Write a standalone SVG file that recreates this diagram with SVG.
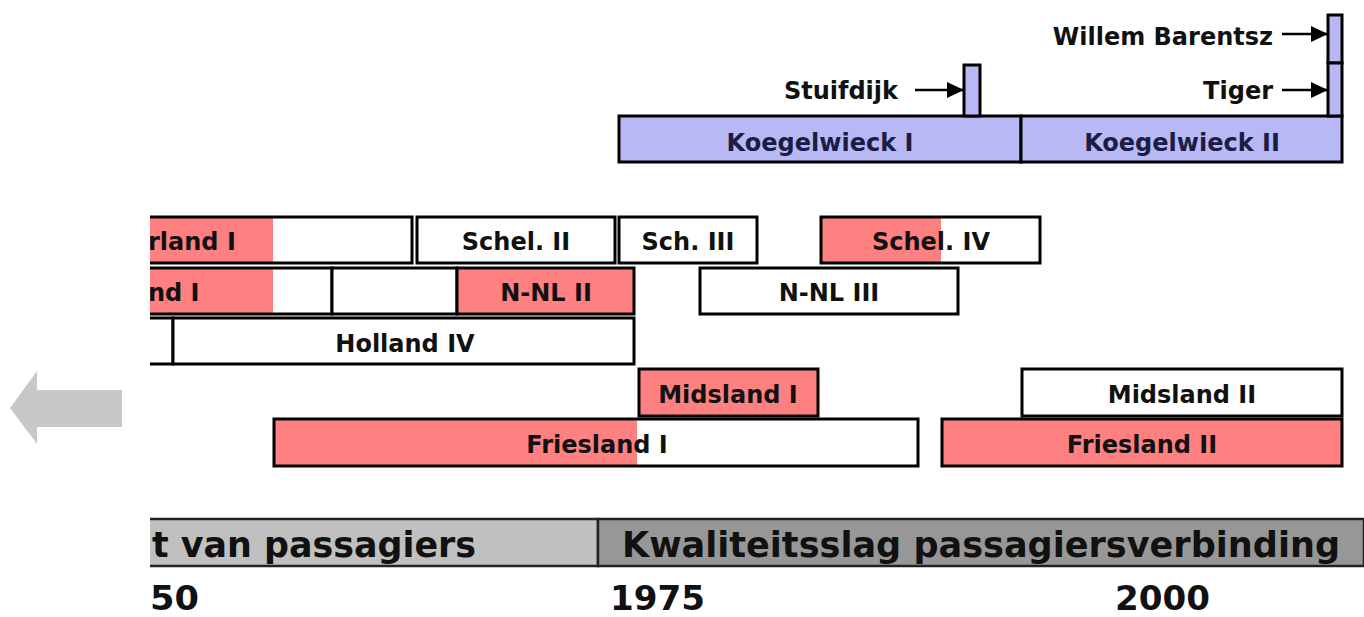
<svg xmlns="http://www.w3.org/2000/svg" width="1364" height="617" viewBox="0 0 1364 617">
<style>
.bar{stroke:#000;stroke-width:3}
.w{fill:#fff}
.p{fill:#ff8080}
.b{fill:#b8b8f4}
.t{font-family:"DejaVu Sans",Verdana,sans-serif;font-weight:bold;font-size:24px;fill:#111;text-anchor:middle}
.tb{fill:#1c1c44}
.l{font-family:"DejaVu Sans",Verdana,sans-serif;font-weight:bold;font-size:24px;fill:#111;text-anchor:end}
.big{font-family:"DejaVu Sans Condensed","DejaVu Sans",sans-serif;font-weight:bold;font-size:36px;fill:#111}
.yr{font-family:"DejaVu Sans Condensed","DejaVu Sans",sans-serif;font-weight:bold;font-size:33px;fill:#111}
.arr{stroke:#000;stroke-width:2.5;fill:none}
</style>
<defs>
<marker id="ah" markerWidth="17" markerHeight="16" refX="16" refY="8" orient="auto" markerUnits="userSpaceOnUse" viewBox="0 0 17 16">
<path d="M0,0 L17,8 L0,16 Z" fill="#000"/>
</marker>
<clipPath id="cl"><rect x="150" y="0" width="1214" height="617"/></clipPath>
</defs>

<g id="arrow-back"><polygon points="10,408 37,371 37,390 122,390 122,427 37,427 37,444" fill="#c8c8c8"/></g>

<g id="koegelwieck1"><rect class="bar b" x="619" y="116" width="402" height="46"/><text class="t tb" x="820" y="151">Koegelwieck I</text></g>
<g id="koegelwieck2"><rect class="bar b" x="1021" y="116" width="321" height="46"/><text class="t tb" x="1182" y="151">Koegelwieck II</text></g>
<g id="stuifdijk"><rect class="bar b" x="964" y="65" width="16" height="51"/><text class="l" x="898" y="99">Stuifdijk</text></g>
<g id="barentsz"><rect class="bar b" x="1328" y="15" width="14" height="48"/><text class="l" x="1273" y="45">Willem Barentsz</text></g>
<g id="tiger"><rect class="bar b" x="1328" y="63" width="14" height="53"/><text class="l" x="1273" y="99">Tiger</text></g>

<g id="row1a" clip-path="url(#cl)"><rect class="w" x="100" y="217" width="312" height="46"/><rect class="p" x="100" y="217" width="173" height="46"/><rect class="bar" fill="none" x="100" y="217" width="312" height="46"/><text class="t" x="148" y="250" style="text-anchor:start">rland I</text></g>
<g id="schel2"><rect class="bar w" x="417" y="217" width="198" height="46"/><text class="t" x="516" y="250">Schel. II</text></g>
<g id="sch3"><rect class="bar w" x="619" y="217" width="138" height="46"/><text class="t" x="688" y="250">Sch. III</text></g>
<g id="schel4"><rect class="w" x="821" y="217" width="219" height="46"/><rect class="p" x="821" y="217" width="120" height="46"/><rect class="bar" fill="none" x="821" y="217" width="219" height="46"/><text class="t" x="931" y="250">Schel. IV</text></g>

<g id="row2a" clip-path="url(#cl)"><rect class="w" x="100" y="268" width="232" height="46"/><rect class="p" x="100" y="268" width="173" height="46"/><rect class="bar" fill="none" x="100" y="268" width="232" height="46"/><text class="t" x="148" y="301" style="text-anchor:start">nd I</text></g>
<g id="row2b"><rect class="bar w" x="332" y="268" width="125" height="46"/></g>
<g id="nnl2"><rect class="bar p" x="457" y="268" width="177" height="46"/><text class="t" x="546" y="301">N-NL II</text></g>
<g id="nnl3"><rect class="bar w" x="700" y="268" width="258" height="46"/><text class="t" x="829" y="301">N-NL III</text></g>

<g id="row3a" clip-path="url(#cl)"><rect class="bar w" x="100" y="318" width="73" height="46"/></g>
<g id="holland4"><rect class="bar w" x="173" y="318" width="461" height="46"/><text class="t" x="405" y="352">Holland IV</text></g>

<g id="midsland1"><rect class="bar p" x="639" y="369" width="179" height="47"/><text class="t" x="728" y="403">Midsland I</text></g>
<g id="midsland2"><rect class="bar w" x="1022" y="369" width="320" height="47"/><text class="t" x="1182" y="403">Midsland II</text></g>
<g id="friesland1"><rect class="w" x="274" y="419" width="644" height="47"/><rect class="p" x="274" y="419" width="363" height="47"/><rect class="bar" fill="none" x="274" y="419" width="644" height="47"/><text class="t" x="597" y="453">Friesland I</text></g>
<g id="friesland2"><rect class="bar p" x="942" y="419" width="400" height="47"/><text class="t" x="1142" y="453">Friesland II</text></g>

<g id="era1" clip-path="url(#cl)"><rect x="100" y="519" width="498" height="47" fill="#c0c0c0" stroke="#222" stroke-width="2.5"/><text class="big" x="152" y="557" textLength="324" lengthAdjust="spacingAndGlyphs">t van passagiers</text></g>
<g id="era2"><rect x="598" y="519" width="766" height="47" fill="#979797" stroke="#222" stroke-width="2.5"/><text class="big" x="622" y="557" textLength="718" lengthAdjust="spacingAndGlyphs">Kwaliteitsslag passagiersverbinding</text></g>

<g id="years">
<text class="yr" x="150" y="610" textLength="49" lengthAdjust="spacingAndGlyphs">50</text>
<text class="yr" x="610" y="610" textLength="95" lengthAdjust="spacingAndGlyphs">1975</text>
<text class="yr" x="1115" y="610" textLength="95" lengthAdjust="spacingAndGlyphs">2000</text>
</g>

<g id="connectors">
<line class="arr" x1="915" y1="90" x2="963" y2="90" marker-end="url(#ah)"/>
<line class="arr" x1="1282" y1="34" x2="1327" y2="34" marker-end="url(#ah)"/>
<line class="arr" x1="1282" y1="90" x2="1327" y2="90" marker-end="url(#ah)"/>
</g>
</svg>
